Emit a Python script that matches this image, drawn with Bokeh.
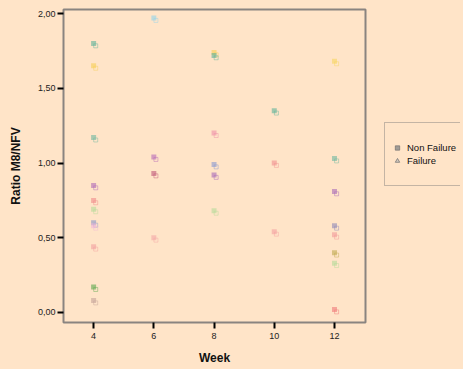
from bokeh.plotting import figure
from bokeh.layouts import row
from bokeh.models import ColumnDataSource, FixedTicker, Legend, LegendItem, Range1d
from bokeh.transform import dodge
from bokeh.embed import file_html
from bokeh.resources import INLINE

# ---- data ----
weeks = [4, 4, 4, 4, 4, 4, 4, 4, 4, 4, 4,
         6, 6, 6, 6,
         8, 8, 8, 8, 8, 8,
         10, 10, 10,
         12, 12, 12, 12, 12, 12, 12, 12]
ratios = [1.80, 1.65, 1.17, 0.85, 0.75, 0.69, 0.60, 0.58, 0.44, 0.17, 0.08,
          1.97, 1.04, 0.93, 0.50,
          1.74, 1.72, 1.20, 0.99, 0.92, 0.68,
          1.35, 1.00, 0.54,
          1.68, 1.03, 0.81, 0.58, 0.52, 0.40, 0.33, 0.02]
colors = ["#5fb39a", "#f6cf55", "#6fb8a0", "#b06ab8", "#f08a8a", "#b5db9a", "#8a96c8", "#f2b8d8",
          "#f2a0a0", "#5ea84e", "#c4a39a",
          "#92d3ea", "#b86ab8", "#c0587a", "#f4a6a6",
          "#f6cf55", "#5fb39a", "#ee8fa8", "#8a9ad0", "#a86ab8", "#b5db9a",
          "#5fb39a", "#f09090", "#f4a0a0",
          "#f6d560", "#6fb8a0", "#a86ab8", "#9088b8", "#f29a9a", "#c0aa50", "#b5db9a", "#f07a7a"]
y_ticks = [0.0, 0.5, 1.0, 1.5, 2.0]
y_tick_labels = ["0,00", "0,50", "1,00", "1,50", "2,00"]
x_ticks = [4, 6, 8, 10, 12]
legend_labels = ["Non Failure", "Failure"]

BG = "#ffe4c8"
FONT = "Liberation Sans"

src = ColumnDataSource(dict(week=weeks, ratio=ratios, color=colors))

p = figure(width=367, height=367, output_backend="svg", toolbar_location=None,
           x_range=Range1d(3, 13.03), y_range=Range1d(-0.067, 2.027),
           min_border_left=63, min_border_right=2, min_border_top=9, min_border_bottom=44)
p.background_fill_color = BG
p.border_fill_color = BG
p.outline_line_color = "#8a8480"
p.outline_line_width = 2
p.xgrid.visible = False
p.ygrid.visible = False

for ax in (p.xaxis, p.yaxis):
    ax.axis_line_alpha = 0
    ax.major_tick_line_color = "black"
    ax.major_tick_line_width = 2
    ax.major_tick_in = 0
    ax.major_tick_out = 6
    ax.minor_tick_line_alpha = 0
    ax.major_label_text_font = FONT
    ax.major_label_text_font_size = "9px"
    ax.major_label_text_color = "#222222"
    ax.axis_label_text_font = FONT
    ax.axis_label_text_font_size = "12px"
    ax.axis_label_text_font_style = "bold"
    ax.axis_label_text_color = "#111111"

p.xaxis.ticker = FixedTicker(ticks=x_ticks)
p.yaxis.ticker = FixedTicker(ticks=y_ticks)
p.yaxis.major_label_overrides = {t: l for t, l in zip(y_ticks, y_tick_labels)}
p.xaxis.axis_label = "Week"
p.yaxis.axis_label = "Ratio M8/NFV"
p.xaxis.major_label_standoff = 4
p.xaxis.axis_label_standoff = 9
p.yaxis.major_label_standoff = 2
p.yaxis.axis_label_standoff = 12

# point glyphs: darker part top-left, lighter outlined part lower-right
p.scatter(x=dodge("week", 0.07), y=dodge("ratio", -0.016), source=src, marker="square", size=4,
          fill_alpha=0.0, line_color="color", line_alpha=0.45, line_width=1)
p.scatter(x="week", y="ratio", source=src, marker="square", size=5,
          fill_color="color", fill_alpha=0.6, line_alpha=0)

# ---- legend panel (separate figure to the right) ----
lf = figure(width=93, height=367, output_backend="svg", toolbar_location=None,
            x_axis_type=None, y_axis_type=None, x_range=Range1d(0, 1), y_range=Range1d(0, 1),
            min_border=0)
lf.background_fill_color = BG
lf.border_fill_color = BG
lf.outline_line_alpha = 0
lf.xgrid.visible = False
lf.ygrid.visible = False

nan = float("nan")
legend_src = ColumnDataSource(dict(x=[nan], y=[nan]))
r_blank = lf.scatter(x="x", y="y", source=legend_src, marker="square", size=1, fill_alpha=0, line_alpha=0)
r_nf = lf.scatter(x="x", y="y", source=legend_src, marker="square", size=4,
                  fill_color="#8a8a8a", fill_alpha=0.8, line_color="#666666", line_alpha=0.6)
r_f = lf.scatter(x="x", y="y", source=legend_src, marker="triangle", size=6,
                 fill_color="#bbbbbb", fill_alpha=0.6, line_color="#777777", line_alpha=0.8)

legend = Legend(items=[LegendItem(label=" ", renderers=[r_blank]),
                       LegendItem(label=legend_labels[0], renderers=[r_nf]),
                       LegendItem(label=legend_labels[1], renderers=[r_f]),
                       LegendItem(label=" ", renderers=[r_blank])],
                location=(17, 136),
                label_text_font=FONT, label_text_font_size="9.5px", label_text_color="#111111",
                background_fill_color=BG, background_fill_alpha=1.0,
                border_line_color="#8a8480", border_line_width=1.5,
                glyph_width=12, glyph_height=11, label_height=11, spacing=2,
                padding=6, margin=0, label_standoff=4)
lf.add_layout(legend, "center")

layout = row(p, lf)
html = file_html(layout, INLINE)
html = html.replace("</head>", "<style>body{background:%s;}</style></head>" % BG, 1)
open("out.html", "w").write(html)
